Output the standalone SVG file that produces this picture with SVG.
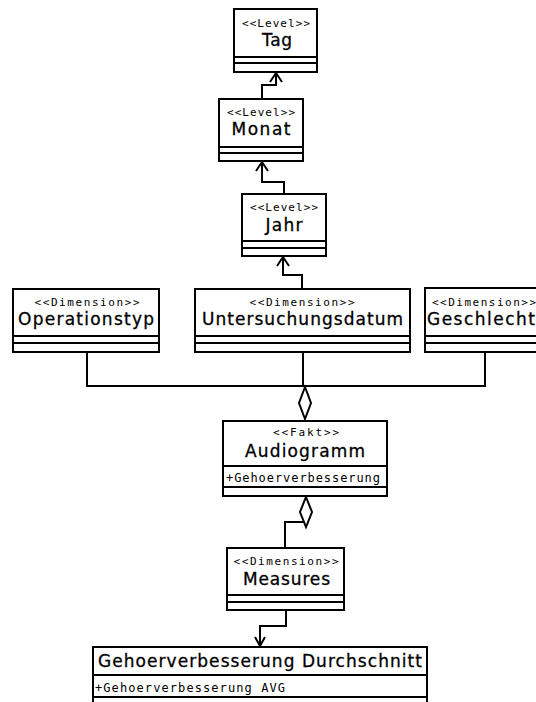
<svg xmlns="http://www.w3.org/2000/svg" width="536" height="702" viewBox="0 0 536 702">
<style>
.box{fill:#fff;stroke:#000;stroke-width:2}
.div{stroke:#000;stroke-width:2}
.st{font-family:"DejaVu Sans Mono","Liberation Mono",monospace;font-size:11px;fill:#000}
.nm{font-family:"DejaVu Sans","Liberation Sans",sans-serif;font-size:17px;fill:#000;stroke:#000;stroke-width:0.3}
.at{font-family:"DejaVu Sans Mono","Liberation Mono",monospace;font-size:12px;fill:#000}
.ln{fill:none;stroke:#000;stroke-width:2}
.dia{fill:#fff;stroke:#000;stroke-width:2}
</style>
<rect width="536" height="702" fill="#fff"/>
<g id="connectors">
<path class="ln" d="M262,99 V85 H276 V73"/>
<path class="ln" d="M270,82 L276,73 L282,82"/>
<path class="ln" d="M284,194 V182 H262 V162"/>
<path class="ln" d="M256,171 L262,162 L268,171"/>
<path class="ln" d="M302,289 V275 H283 V257"/>
<path class="ln" d="M277,266 L283,257 L289,266"/>
<path class="ln" d="M87,352 V386 H485 V352"/>
<path class="ln" d="M303,352 V387"/>
<polygon class="dia" points="305,387 311,403 305,419 299,403"/>
<path class="ln" d="M305,522 H285 V548"/>
<polygon class="dia" points="306,497 312,512 306,527 300,512"/>
<path class="ln" d="M286,610 V626 H260 V646"/>
<path class="ln" d="M255,637 L260,646 L265,637"/>
</g>
<g id="tag">
<rect class="box" x="234" y="9" width="83" height="63"/>
<line class="div" x1="234" y1="57" x2="317" y2="57"/>
<line class="div" x1="234" y1="63" x2="317" y2="63"/>
<text class="st" x="276" y="27" text-anchor="middle" textLength="68" lengthAdjust="spacing">&lt;&lt;Level&gt;&gt;</text>
<text class="nm" x="277" y="46" text-anchor="middle" textLength="30" lengthAdjust="spacing">Tag</text>
</g>
<g id="monat">
<rect class="box" x="219" y="99" width="84" height="62"/>
<line class="div" x1="219" y1="147" x2="303" y2="147"/>
<line class="div" x1="219" y1="153" x2="303" y2="153"/>
<text class="st" x="261" y="116" text-anchor="middle" textLength="68" lengthAdjust="spacing">&lt;&lt;Level&gt;&gt;</text>
<text class="nm" x="261" y="135" text-anchor="middle" textLength="59" lengthAdjust="spacing">Monat</text>
</g>
<g id="jahr">
<rect class="box" x="242" y="194" width="84" height="62"/>
<line class="div" x1="242" y1="241" x2="326" y2="241"/>
<line class="div" x1="242" y1="248" x2="326" y2="248"/>
<text class="st" x="284" y="211" text-anchor="middle" textLength="68" lengthAdjust="spacing">&lt;&lt;Level&gt;&gt;</text>
<text class="nm" x="284" y="231" text-anchor="middle" textLength="37" lengthAdjust="spacing">Jahr</text>
</g>
<g id="operationstyp">
<rect class="box" x="13" y="289" width="146" height="63"/>
<line class="div" x1="13" y1="336" x2="159" y2="336"/>
<line class="div" x1="13" y1="343" x2="159" y2="343"/>
<text class="st" x="87" y="306" text-anchor="middle" textLength="105" lengthAdjust="spacing">&lt;&lt;Dimension&gt;&gt;</text>
<text class="nm" x="86" y="325" text-anchor="middle" textLength="136" lengthAdjust="spacing">Operationstyp</text>
</g>
<g id="untersuchungsdatum">
<rect class="box" x="195" y="289" width="215" height="63"/>
<line class="div" x1="195" y1="336" x2="410" y2="336"/>
<line class="div" x1="195" y1="343" x2="410" y2="343"/>
<text class="st" x="302" y="306" text-anchor="middle" textLength="105" lengthAdjust="spacing">&lt;&lt;Dimension&gt;&gt;</text>
<text class="nm" x="302.5" y="325" text-anchor="middle" textLength="201" lengthAdjust="spacing">Untersuchungsdatum</text>
</g>
<g id="geschlecht">
<rect class="box" x="425" y="288" width="125" height="64"/>
<line class="div" x1="425" y1="336" x2="550" y2="336"/>
<line class="div" x1="425" y1="343" x2="550" y2="343"/>
<text class="st" x="432" y="306" textLength="104" lengthAdjust="spacing">&lt;&lt;Dimension&gt;&gt;</text>
<text class="nm" x="427" y="325" textLength="108" lengthAdjust="spacing">Geschlecht</text>
</g>
<g id="audiogramm">
<rect class="box" x="223" y="421" width="164" height="75"/>
<line class="div" x1="223" y1="466" x2="387" y2="466"/>
<line class="div" x1="223" y1="487" x2="387" y2="487"/>
<text class="st" x="306" y="436" text-anchor="middle" textLength="66" lengthAdjust="spacing">&lt;&lt;Fakt&gt;&gt;</text>
<text class="nm" x="305" y="457" text-anchor="middle" textLength="120" lengthAdjust="spacing">Audiogramm</text>
<text class="at" x="226" y="482" textLength="154" lengthAdjust="spacing">+Gehoerverbesserung</text>
</g>
<g id="measures">
<rect class="box" x="227" y="548" width="117" height="62"/>
<line class="div" x1="227" y1="595" x2="344" y2="595"/>
<line class="div" x1="227" y1="602" x2="344" y2="602"/>
<text class="st" x="286" y="565" text-anchor="middle" textLength="105" lengthAdjust="spacing">&lt;&lt;Dimension&gt;&gt;</text>
<text class="nm" x="286.5" y="585" text-anchor="middle" textLength="87" lengthAdjust="spacing">Measures</text>
</g>
<g id="gehoerverbesserung-durchschnitt">
<rect class="box" x="93" y="647" width="334" height="70"/>
<line class="div" x1="93" y1="675" x2="427" y2="675"/>
<line class="div" x1="93" y1="697" x2="427" y2="697"/>
<text class="nm" x="260" y="667" text-anchor="middle" textLength="324" lengthAdjust="spacing">Gehoerverbesserung Durchschnitt</text>
<text class="at" x="95" y="692" textLength="190" lengthAdjust="spacing">+Gehoerverbesserung AVG</text>
</g>
</svg>
